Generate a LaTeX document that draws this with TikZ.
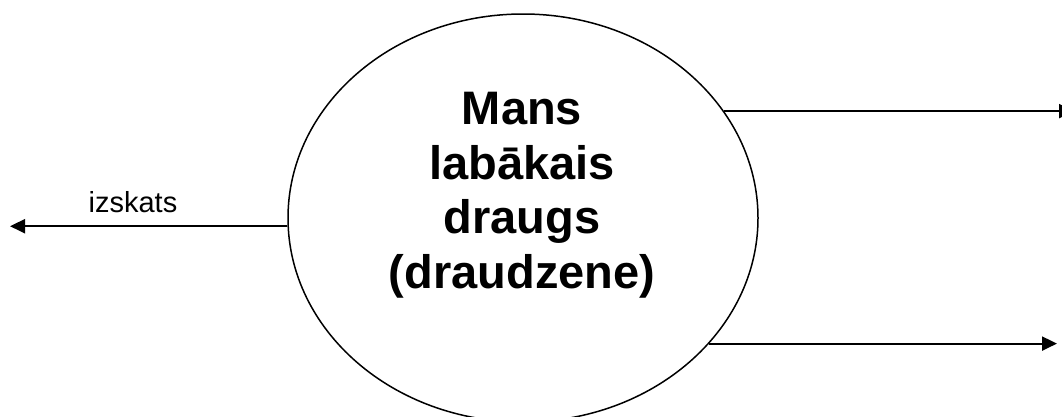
\documentclass[tikz,border=0pt]{standalone}
\usepackage{fontspec}
\setmainfont{Liberation Sans}
\usetikzlibrary{shapes.geometric,arrows.meta}
\begin{document}
\begin{tikzpicture}[x=1pt,y=1pt,
  arr/.style={line width=2pt,-{Triangle[length=15pt,width=14pt]}},
  bubble/.style={ellipse,draw,line width=1.5pt,minimum width=470pt,minimum height=408pt,inner sep=0pt},
  title/.style={font=\fontsize{47}{54.7}\selectfont\bfseries,align=center,inner sep=0pt},
  lbl/.style={font=\fontsize{29}{34}\selectfont,inner sep=0pt}]
\useasboundingbox (0,0) rectangle (1062,-416);
\node[bubble] (e) at (523,-218) {};
\node[title,anchor=north] (t) at (522,-92) {Mans\\labākais\\draugs\\(draudzene)};
\coordinate (lt) at (10,-230);
\coordinate (rt1) at (1074,-111);
\coordinate (rt2) at (1057,-344);
\draw[arr] (e.182.93) -- (e.182.93 -| lt);
\draw[arr] (e.28.15) -- (e.28.15 -| rt1);
\draw[arr] (e.-34.29) -- (e.-34.29 -| rt2);
\node[lbl,anchor=base] (iz) at (133,-212) {izskats};
\end{tikzpicture}
\end{document}
